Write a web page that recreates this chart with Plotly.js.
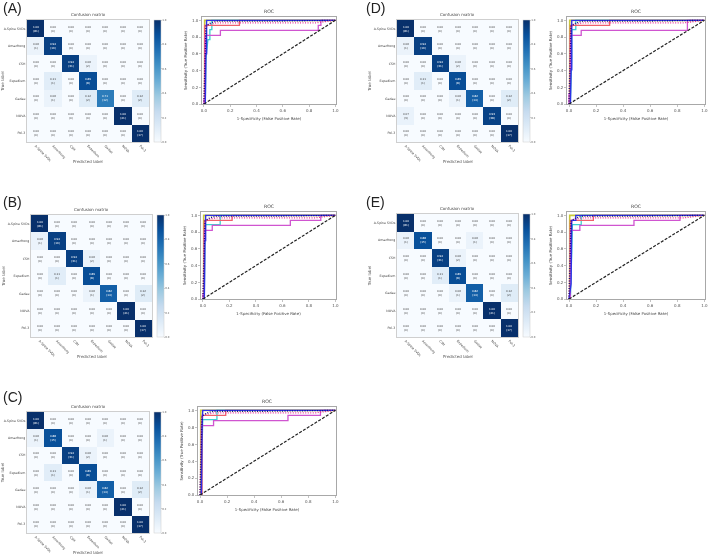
<!DOCTYPE html>
<html><head><meta charset="utf-8">
<script src="https://cdn.plot.ly/plotly-3.0.1.min.js"></script>
<style>html,body{margin:0;padding:0;background:#fff}#c{width:709px;height:556px;filter:blur(.4px)}</style>
</head><body><div id="c"></div>
<script>
const classes = ["A-Spine SVDs","Amazfrong","CSH","Expedium","Gadae","NOVA","Pol-3"];
const panelLetters = ["(A)","(B)","(C)","(D)","(E)"];

const cmA = [[1,0,0,0,0,0,0],[.06,.94,0,0,0,0,0],[0,0,.94,.06,0,0,0],[0,.11,0,.89,0,0,0],[0,.06,0,.12,.71,0,.12],[0,0,0,0,0,1,0],[0,0,0,0,0,0,1]];
const cntA = [[81,0,0,0,0,0,0],[1,16,0,0,0,0,0],[0,0,31,2,0,0,0],[0,1,0,8,0,0,0],[0,1,0,2,12,0,2],[0,0,0,0,0,41,0],[0,0,0,0,0,0,17]];
const cmB = [[1,0,0,0,0,0,0],[.06,.94,0,0,0,0,0],[0,0,.94,.06,0,0,0],[0,.11,0,.89,0,0,0],[0,0,0,.06,.82,0,.12],[0,0,0,0,0,1,0],[0,0,0,0,0,0,1]];
const cntB = [[81,0,0,0,0,0,0],[1,16,0,0,0,0,0],[0,0,31,2,0,0,0],[0,1,0,8,0,0,0],[0,0,0,1,14,0,2],[0,0,0,0,0,41,0],[0,0,0,0,0,0,17]];
const cmC = [[1,0,0,0,0,0,0],[.06,.88,0,0,.06,0,0],[0,0,.94,.06,0,0,0],[0,.11,0,.89,0,0,0],[0,0,0,.06,.82,0,.12],[0,0,0,0,0,1,0],[0,0,0,0,0,0,1]];
const cntC = [[81,0,0,0,0,0,0],[1,15,0,0,1,0,0],[0,0,31,2,0,0,0],[0,1,0,8,0,0,0],[0,0,0,1,14,0,2],[0,0,0,0,0,41,0],[0,0,0,0,0,0,17]];
const cmD = [[1,0,0,0,0,0,0],[.06,.94,0,0,0,0,0],[0,0,.94,.06,0,0,0],[0,.11,0,.89,0,0,0],[0,0,0,.06,.82,0,.12],[.07,0,0,0,0,.93,0],[0,0,0,0,0,0,1]];
const cntD = [[81,0,0,0,0,0,0],[1,16,0,0,0,0,0],[0,0,31,2,0,0,0],[0,1,0,8,0,0,0],[0,0,0,1,14,0,2],[3,0,0,0,0,38,0],[0,0,0,0,0,0,17]];
const cmE = [[1,0,0,0,0,0,0],[.06,.88,0,0,.06,0,0],[0,0,.94,.06,0,0,0],[0,0,.11,.89,0,0,0],[0,0,0,.06,.82,0,.12],[0,0,0,0,0,1,0],[0,0,0,0,0,0,1]];
const cntE = [[81,0,0,0,0,0,0],[1,15,0,0,1,0,0],[0,0,31,2,0,0,0],[0,0,1,8,0,0,0],[0,0,0,1,14,0,2],[0,0,0,0,0,41,0],[0,0,0,0,0,0,17]];

const diagX = [0,1], diagY = [0,1];
const yellowX = [0,0.005,0.005,1], yellowY = [0,0,1,1];
const pinkDotX = [0,0.003,0.01,0.03,0.1,0.85,1], pinkDotY = [0,0.2,0.9,0.95,0.97,0.97,1];
const navyDotX = [0,0.01,0.015,0.05,0.1,0.5,1], navyDotY = [0,0.65,0.93,0.97,0.99,0.99,1];

const cyanAX=[0,.01,.015,.03,.045,.045,.06,.06,1], cyanAY=[0,0,.55,.77,.77,.89,.89,1,1];
const redAX=[0,.005,.005,.27,.27,1], redAY=[0,0,.94,.94,1,1];
const magAX=[0,0,.01,.01,.125,.125,.87,.87,.89,.89,1], magAY=[0,.06,.06,.82,.82,.88,.88,.94,.94,1,1];
const bluAX=[0,.01,.015,.02,.02,1], bluAY=[0,0,.6,.6,1,1];

const cyanBX=[0,.01,.015,.02,.13,.13,1], cyanBY=[0,0,.72,.89,.89,1,1];
const redBX=[0,.01,.01,.22,.22,1], redBY=[0,0,.94,.94,1,1];
const magBX=[0,0,.01,.01,.07,.07,.66,.66,.89,.89,1], magBY=[0,.06,.06,.82,.82,.88,.88,.94,.94,1,1];
const bluBX=[0,.01,.015,.02,.02,1], bluBY=[0,0,.7,.7,1,1];

const cyanCX=[0,.01,.015,.02,.125,.125,1], cyanCY=[0,0,.55,.89,.89,1,1];
const redCX=[0,.015,.015,.19,.19,1], redCY=[0,0,.94,.94,1,1];
const magCX=[0,.01,.01,.1,.1,.65,.65,.89,.89,1], magCY=[0,0,.82,.82,.88,.88,.94,.94,1,1];
const bluCX=[0,.01,.015,.02,1], bluCY=[0,0,.8,1,1];

const cyanDX=[0,.01,.02,.02,.05,.05,1], cyanDY=[0,0,.55,.89,.89,1,1];
const redDX=[0,.01,.01,.3,.3,1], redDY=[0,0,.94,.94,1,1];
const magDX=[0,0,.01,.01,.09,.09,.875,.875,1], magDY=[0,.12,.12,.82,.82,.88,.88,1,1];
const bluDX=[0,.01,.015,.02,.02,1], bluDY=[0,0,.41,.41,1,1];

const cyanEX=[0,.01,.02,.025,.09,.09,1], cyanEY=[0,0,.55,.89,.89,1,1];
const redEX=[0,.01,.01,.18,.18,1], redEY=[0,0,.94,.94,1,1];
const magEX=[0,.01,.01,.08,.08,.48,.48,.82,.82,1], magEY=[0,0,.82,.82,.88,.88,.94,.94,1,1];
const bluEX=[0,.01,.015,.02,.05,.05,1], bluEY=[0,.18,.18,.94,.94,1,1];

const blues = [[0,'#f7fbff'],[.125,'#deebf7'],[.25,'#c6dbef'],[.375,'#9ecae1'],[.5,'#6baed6'],[.625,'#4292c6'],[.75,'#2171b5'],[.875,'#08519c'],[1,'#08306b']];

// pixel boxes [cmLeft, cmRight, cmTop, cmBottom, rocLeft, rocRight, rocTop, rocBottom, letterX, letterY]
const boxes = [
 [27,149,20,142, 202,336,17,104, 1,8],
 [31,152,215,337, 201,336,212,299, 1,202],
 [27,149,412,533, 198,336,407,495, 1,397],
 [397,518,20,142, 567,705,17,104, 364,8],
 [397,518,214,337, 567,705,212,299, 364,202]
];
const W=709,H=556;
const dx=(a,b)=>[a/W,b/W], dy=(t,b)=>[1-b/H,1-t/H];
const fontF='"DejaVu Sans", sans-serif';
const cms=[cmA,cmB,cmC,cmD,cmE], cnts=[cntA,cntB,cntC,cntD,cntE];
const rocs=[
 [cyanAX,cyanAY,redAX,redAY,magAX,magAY,bluAX,bluAY],
 [cyanBX,cyanBY,redBX,redBY,magBX,magBY,bluBX,bluBY],
 [cyanCX,cyanCY,redCX,redCY,magCX,magCY,bluCX,bluCY],
 [cyanDX,cyanDY,redDX,redDY,magDX,magDY,bluDX,bluDY],
 [cyanEX,cyanEY,redEX,redEY,magEX,magEY,bluEX,bluEY]];
const traces=[], layout={width:W,height:H,margin:{l:0,r:0,t:0,b:0},paper_bgcolor:'#fff',plot_bgcolor:'#fff',showlegend:false,font:{family:fontF,color:'#444'},annotations:[]};
const idx=[0,1,2,3,4,5,6];
boxes.forEach((b,i)=>{
  const xa=2*i+1, ra=2*i+2;
  const txt=cms[i].map((row,r)=>row.map((v,c)=>v.toFixed(2)+'<br>('+cnts[i][r][c]+')'));
  traces.push({type:'heatmap',z:cms[i],x:idx,y:idx,zmin:0,zmax:1,colorscale:blues,text:txt,texttemplate:'%{text}',textfont:{size:2.8,family:fontF},hoverinfo:'skip',
    xaxis:'x'+xa,yaxis:'y'+xa,
    colorbar:{x:(b[1]+5)/W,xanchor:'left',xpad:0,ypad:0,y:1-b[3]/H,yanchor:'bottom',len:(b[3]-b[2])/H,lenmode:'fraction',thickness:7,thicknessmode:'pixels',
      tickvals:[0,.2,.4,.6,.8,1],ticktext:['0.0','0.2','0.4','0.6','0.8','1.0'],tickfont:{size:2.6,color:'#555'},ticks:'outside',ticklen:1,tickwidth:.4,tickcolor:'#888',outlinecolor:'#ccc',outlinewidth:.5}});
  layout['xaxis'+xa]={domain:dx(b[0],b[1]),anchor:'y'+xa,range:[-.5,6.5],tickvals:idx,ticktext:classes,tickangle:45,tickfont:{size:3.2,color:'#444'},showgrid:false,zeroline:false,showline:true,mirror:true,linecolor:'#cfcfcf',linewidth:1,ticks:''};
  layout['yaxis'+xa]={domain:dy(b[2],b[3]),anchor:'x'+xa,range:[6.5,-.5],tickvals:idx,ticktext:classes,tickfont:{size:3.2,color:'#444'},showgrid:false,zeroline:false,showline:true,mirror:true,linecolor:'#cfcfcf',linewidth:1,ticks:'',
    title:{text:'True label',font:{size:4,color:'#555'},standoff:2}};
  const tk={tickvals:[0,.2,.4,.6,.8,1],ticktext:['0.0','0.2','0.4','0.6','0.8','1.0'],tickfont:{size:4,color:'#555'},ticks:'outside',ticklen:1.5,tickwidth:.5,tickcolor:'#888',showgrid:false,zeroline:false,showline:true,mirror:true,linecolor:'#a8a8a8',linewidth:1.3};
  layout['xaxis'+ra]=Object.assign({domain:dx(b[4],b[5]),anchor:'y'+ra,range:[-.015,1.005],title:{text:'1-Specificity (False Positive Rate)',font:{size:3.9,color:'#444'},standoff:5}},tk);
  layout['yaxis'+ra]=Object.assign({domain:dy(b[6],b[7]),anchor:'x'+ra,range:[0,1.04],title:{text:'Sensitivity (True Positive Rate)',font:{size:3.9,color:'#444'},standoff:4}},tk);
  const rr=rocs[i], add=(x,y,color,w,dash)=>traces.push({type:'scatter',mode:'lines',x,y,xaxis:'x'+ra,yaxis:'y'+ra,hoverinfo:'skip',line:{color,width:w,dash:dash||'solid'}});
  add(yellowX,yellowY,'#c9c93a',1.6);
  add(rr[0],rr[1],'#3fcfcf',1.3);
  add(rr[2],rr[3],'#f0606a',1.3);
  add(rr[4],rr[5],'#d055d0',1.3);
  add(rr[6],rr[7],'#2f2fe6',1.4);
  add(pinkDotX,pinkDotY,'#e8309a',1.3,'1px,1.5px');
  add(navyDotX,navyDotY,'#101080',1.3,'1px,1.5px');
  add(diagX,diagY,'#222',1.2,'3px,1.5px');
  layout.annotations.push({xref:'paper',yref:'paper',x:(b[0]+b[1])/2/W,y:1-(b[3]+19)/H,xanchor:'center',yanchor:'middle',showarrow:false,text:'Predicted label',font:{size:4,color:'#555'}});
  layout.annotations.push({xref:'paper',yref:'paper',x:(b[0]+b[1])/2/W,y:1-(b[2]-1)/H,xanchor:'center',yanchor:'bottom',showarrow:false,text:'Confusion matrix',font:{size:4,color:'#444'}});
  layout.annotations.push({xref:'paper',yref:'paper',x:(b[4]+b[5])/2/W,y:1-(b[6]-1)/H,xanchor:'center',yanchor:'bottom',showarrow:false,text:'ROC',font:{size:4.6,color:'#444'}});
  layout.annotations.push({xref:'paper',yref:'paper',x:b[8]/W,y:1-b[9]/H,xanchor:'left',yanchor:'middle',showarrow:false,text:panelLetters[i],font:{size:14,family:'"Liberation Sans",sans-serif',color:'#222'}});
});
Plotly.newPlot('c',traces,layout,{displayModeBar:false,staticPlot:true});
</script></body></html>
